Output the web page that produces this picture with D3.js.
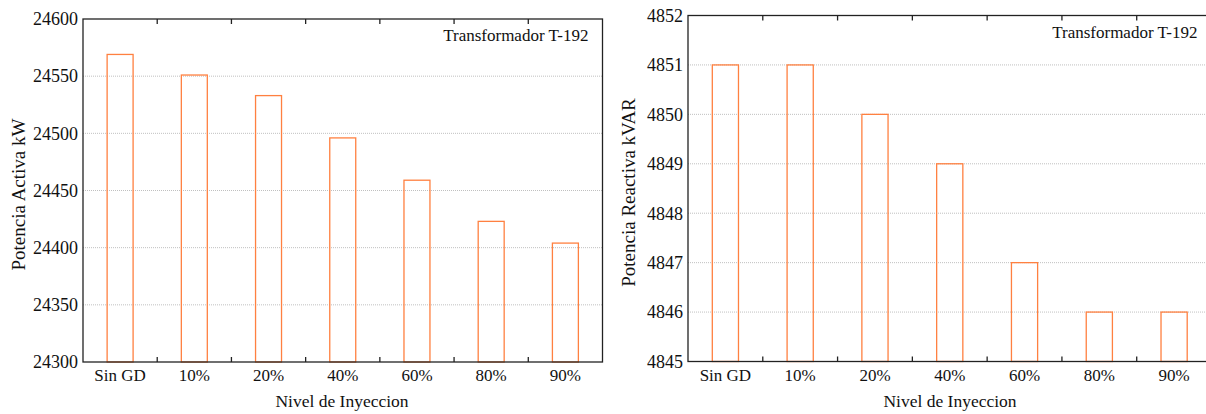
<!DOCTYPE html>
<html>
<head>
<meta charset="utf-8">
<script src="https://cdn.jsdelivr.net/npm/d3@7"></script>
<style>
  body { margin: 0; background: #fff; }
  text { font-family: "Liberation Serif", "DejaVu Serif", "Times New Roman", serif; }
</style>
</head>
<body>
<svg id="chart" width="1206" height="414"></svg>
<script>
const categories = ["Sin GD", "10%", "20%", "40%", "60%", "80%", "90%"];
const activeKW = [24569, 24551, 24533, 24496, 24459, 24423, 24404];
const reactiveKVAR = [4851, 4851, 4850, 4849, 4847, 4846, 4846];
const activeTicks = [24300, 24350, 24400, 24450, 24500, 24550, 24600];
const reactiveTicks = [4845, 4846, 4847, 4848, 4849, 4850, 4851, 4852];

const svg = d3.select("#chart");
const barColor = "#ff8040";
const fontFamily = "'Liberation Serif', 'DejaVu Serif', serif";

function drawPanel(cfg) {
    const g = svg.append("g").attr("font-family", fontFamily).attr("fill", "#111");
    const x = d3.scaleBand().domain(categories).range([cfg.left, cfg.right]);
    const y = d3.scaleLinear().domain(d3.extent(cfg.ticks)).range([cfg.bottom, cfg.top]);

    // dotted grid
    g.selectAll(".grid")
        .data(cfg.ticks.slice(1, -1))
        .join("line")
        .attr("x1", cfg.left).attr("x2", cfg.right)
        .attr("y1", d => y(d)).attr("y2", d => y(d))
        .attr("stroke", "#b0b0b0")
        .attr("stroke-width", 0.8)
        .attr("stroke-dasharray", "1,1");

    // bars
    const bw = x.bandwidth() * 0.35;
    g.selectAll(".bar")
        .data(cfg.values)
        .join("rect")
        .attr("x", (d, i) => x(categories[i]) + (x.bandwidth() - bw) / 2)
        .attr("y", d => y(d))
        .attr("width", bw)
        .attr("height", d => cfg.bottom - y(d))
        .attr("fill", "none")
        .attr("stroke", barColor)
        .attr("stroke-width", 1.3);

    // frame
    g.append("rect")
        .attr("x", cfg.left).attr("y", cfg.top)
        .attr("width", cfg.right - cfg.left).attr("height", cfg.bottom - cfg.top)
        .attr("fill", "none")
        .attr("stroke", "#222")
        .attr("stroke-width", 1.3);

    // inward ticks at category boundaries, top and bottom
    const bounds = categories.slice(1).map(c => x(c));
    g.selectAll(".tb")
        .data(bounds)
        .join("line")
        .attr("x1", d => d).attr("x2", d => d)
        .attr("y1", cfg.bottom).attr("y2", cfg.bottom - 5)
        .attr("stroke", "#222").attr("stroke-width", 1.3);
    g.selectAll(".tt")
        .data(bounds)
        .join("line")
        .attr("x1", d => d).attr("x2", d => d)
        .attr("y1", cfg.top).attr("y2", cfg.top + 5)
        .attr("stroke", "#222").attr("stroke-width", 1.3);

    // y tick labels
    g.selectAll(".yl")
        .data(cfg.ticks)
        .join("text")
        .attr("x", cfg.left - 5)
        .attr("y", d => y(d))
        .attr("dy", "0.35em")
        .attr("text-anchor", "end")
        .attr("font-size", 18)
        .text(d => d);

    // x tick labels
    g.selectAll(".xl")
        .data(categories)
        .join("text")
        .attr("x", d => x(d) + x.bandwidth() / 2)
        .attr("y", 381)
        .attr("text-anchor", "middle")
        .attr("font-size", 17)
        .text(d => d);

    // axis titles
    g.append("text")
        .attr("x", cfg.xTitleX)
        .attr("y", 407)
        .attr("text-anchor", "middle")
        .attr("font-size", 17.5)
        .text("Nivel de Inyeccion");

    g.append("text")
        .attr("transform", `translate(${cfg.yTitleX},${(cfg.top + cfg.bottom) / 2 + 4}) rotate(-90)`)
        .attr("text-anchor", "middle")
        .attr("font-size", 19)
        .text(cfg.yTitle);

    // annotation
    g.append("text")
        .attr("x", cfg.right - 14)
        .attr("y", cfg.top + 22)
        .attr("text-anchor", "end")
        .attr("font-size", 17)
        .text("Transformador T-192");
}

drawPanel({
    left: 83, right: 602.5, top: 19, bottom: 362,
    values: activeKW, ticks: activeTicks,
    yTitle: "Potencia Activa kW", yTitleX: 25, xTitleX: 342
});

drawPanel({
    left: 688, right: 1211.5, top: 15.5, bottom: 361.5,
    values: reactiveKVAR, ticks: reactiveTicks,
    yTitle: "Potencia Reactiva kVAR", yTitleX: 635, xTitleX: 950
});
</script>
</body>
</html>
